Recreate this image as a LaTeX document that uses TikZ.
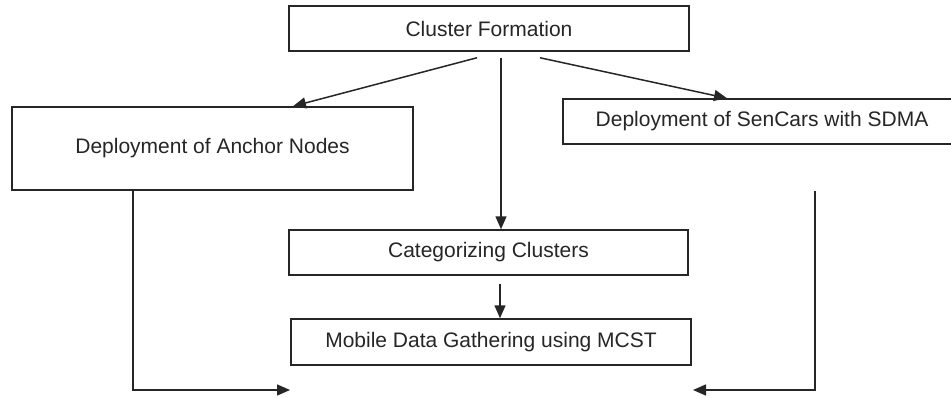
\documentclass[tikz,border=0pt]{standalone}
\usepackage{fontspec}
\setmainfont{Liberation Sans}
\usetikzlibrary{arrows.meta}
\definecolor{ink}{HTML}{262626}
\tikzset{
  stagebox/.style={draw=ink, line width=1.5pt, fill=white, text=ink,
    inner sep=0pt, font=\fontsize{21}{25}\selectfont},
  flow/.style={draw=ink, line width=1.5pt,
    -{Triangle[length=13pt,width=11pt]}}
}
\begin{document}
\begin{tikzpicture}[x=1pt,y=-1pt]
  \useasboundingbox (0,0) rectangle (951,397);

  % process stages
  \node[stagebox, minimum width=400pt, minimum height=45pt] (cf)  at (489,28.5)  {Cluster Formation};
  \node[stagebox, minimum width=401pt, minimum height=83pt] (an)  at (212.5,148.5) {Deployment of Anchor Nodes};
  \node[stagebox, minimum width=398pt, minimum height=45pt] (sd)  at (762,121.5) {Deployment of SenCars with SDMA};
  \node[stagebox, minimum width=399pt, minimum height=45pt] (cat) at (488.5,252.5) {Categorizing Clusters};
  \node[stagebox, minimum width=400pt, minimum height=46pt] (mob) at (491,342)   {Mobile Data Gathering using MCST};

  % loose ends of the feedback lines
  \coordinate (sdTail) at (815,191);
  \coordinate (inL) at (290,390);
  \coordinate (inR) at (693,390);

  % branches out of the cluster formation stage
  \draw[flow] ([xshift=-12pt,yshift=-6pt]cf.south) -- ([xshift=80.5pt]an.north);
  \draw[flow] ([xshift=12pt,yshift=-6pt]cf.south) -- ([xshift=12.5pt]cat.north);
  \draw[flow] ([xshift=51pt,yshift=-6pt]cf.south) -- ([xshift=-35pt]sd.north);

  % categorizing to data gathering
  \draw[flow] ([xshift=11.5pt,yshift=-8pt]cat.south) -- ([xshift=9pt]mob.north);

  % side paths into the bottom
  \draw[flow] ([xshift=-79.5pt]an.south) |- (inL);
  \draw[flow] (sdTail) |- (inR);
\end{tikzpicture}
\end{document}
